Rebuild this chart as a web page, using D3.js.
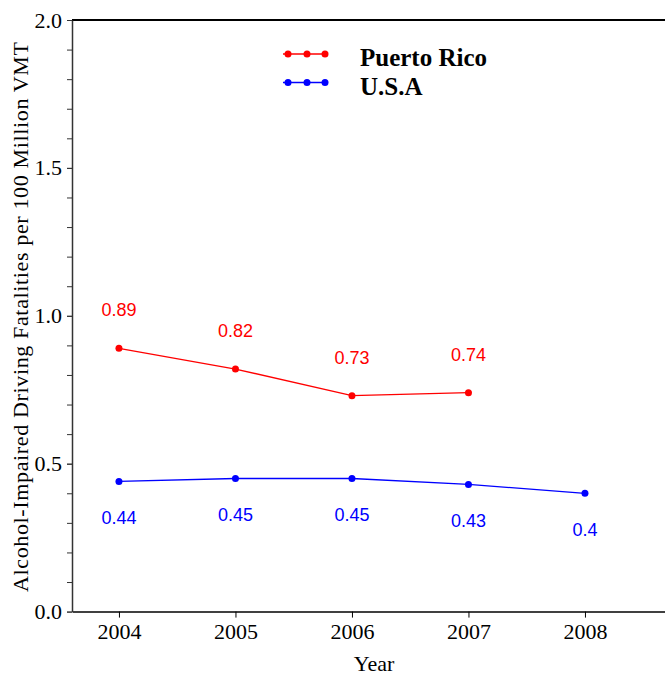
<!DOCTYPE html>
<html>
<head>
<meta charset="utf-8">
<script src="https://cdn.jsdelivr.net/npm/d3@7"></script>
<style>
  body { margin: 0; background: #fff; }
  svg { display: block; }
</style>
</head>
<body>
<div id="chart"></div>
<script>
// data
const years = [2004, 2005, 2006, 2007, 2008];
const puerto_rico = [0.89, 0.82, 0.73, 0.74];
const usa = [0.44, 0.45, 0.45, 0.43, 0.4];
const y_ticks = [0.0, 0.5, 1.0, 1.5, 2.0];
const series_names = ["Puerto Rico", "U.S.A"];

const width = 665;
const height = 675;
const margin = {left: 72, right: 0, top: 20, bottom: 63};

const svg = d3.select("#chart")
  .append("svg")
    .attr("width", width)
    .attr("height", height);

// scales
const X_SCALE = d3.scaleLinear()
  .domain([2003.597, 2008.687])
  .range([margin.left, width - margin.right]);

const Y_SCALE = d3.scaleLinear()
  .domain([0, 2])
  .range([height - margin.bottom - 0.4, margin.top]);

const serif = "'Liberation Serif', 'Times New Roman', serif";
const sans = "'Liberation Sans', Arial, sans-serif";

// top frame line
svg.append("line")
  .attr("x1", margin.left).attr("x2", width)
  .attr("y1", Y_SCALE(2)).attr("y2", Y_SCALE(2))
  .attr("stroke", "#000").attr("stroke-width", 2);

// x axis
const x_axis = svg.append("g")
  .attr("transform", "translate(0," + Y_SCALE(0) + ")")
  .call(d3.axisBottom(X_SCALE).tickValues(years).tickFormat(d3.format("d"))
    .tickSizeInner(6).tickSizeOuter(0).tickPadding(6));
x_axis.select(".domain").attr("stroke-width", 1.5);
x_axis.selectAll("text").attr("font-family", serif).attr("font-size", 22).attr("fill", "#000");

// y axis minor ticks
const y_minor = svg.append("g")
  .attr("transform", "translate(" + margin.left + ",0)")
  .call(d3.axisLeft(Y_SCALE).tickValues(d3.range(0, 21).map(i => i / 10))
    .tickFormat("").tickSizeInner(5).tickSizeOuter(0));
y_minor.select(".domain").attr("stroke", "#333").attr("stroke-width", 1.5);
y_minor.selectAll(".tick line").attr("stroke", "#333");

// y axis labels
const y_axis = svg.append("g")
  .attr("transform", "translate(" + margin.left + ",0)")
  .call(d3.axisLeft(Y_SCALE).tickValues(y_ticks).tickFormat(d3.format(".1f"))
    .tickSizeInner(5).tickSizeOuter(0).tickPadding(5));
y_axis.select(".domain").remove();
y_axis.selectAll(".tick line").attr("stroke", "#333");
y_axis.selectAll("text").attr("font-family", serif).attr("font-size", 22).attr("fill", "#000");

// axis titles
svg.append("text")
  .attr("x", 374).attr("y", 671)
  .attr("text-anchor", "middle")
  .attr("font-family", serif).attr("font-size", 22)
  .text("Year");

svg.append("text")
  .attr("transform", "translate(28,317) rotate(-90)")
  .attr("text-anchor", "middle")
  .attr("font-family", serif).attr("font-size", 22)
  .attr("textLength", 550).attr("lengthAdjust", "spacing")
  .text("Alcohol-Impaired Driving Fatalities per 100 Million VMT");

// series
const series = [
  {name: series_names[0], values: puerto_rico, color: "#ff0000", dy: -32},
  {name: series_names[1], values: usa, color: "#0000ff", dy: 43}
];

const line = d3.line()
  .x((d, i) => X_SCALE(years[i]))
  .y(d => Y_SCALE(d));

series.forEach(s => {
  svg.append("path")
    .attr("d", line(s.values))
    .attr("fill", "none")
    .attr("stroke", s.color)
    .attr("stroke-width", 1.3);

  svg.selectAll(null)
    .data(s.values)
    .enter().append("circle")
      .attr("cx", (d, i) => X_SCALE(years[i]))
      .attr("cy", d => Y_SCALE(d))
      .attr("r", 3.5)
      .attr("fill", s.color);

  svg.selectAll(null)
    .data(s.values)
    .enter().append("text")
      .attr("x", (d, i) => X_SCALE(years[i]))
      .attr("y", d => Y_SCALE(d) + s.dy)
      .attr("text-anchor", "middle")
      .attr("font-family", sans).attr("font-size", 18)
      .attr("fill", s.color)
      .text(d => d);
});

// legend
const legend = svg.append("g");
series.forEach((s, k) => {
  const ly = 54 + k * 28.5;
  legend.append("line")
    .attr("x1", 283).attr("x2", 326)
    .attr("y1", ly).attr("y2", ly)
    .attr("stroke", s.color).attr("stroke-width", 1.5);
  [288, 307, 325].forEach(cx => {
    legend.append("circle")
      .attr("cx", cx).attr("cy", ly).attr("r", 3.5)
      .attr("fill", s.color);
  });
  legend.append("text")
    .attr("x", 360).attr("y", ly + 12)
    .attr("font-family", serif).attr("font-weight", "bold").attr("font-size", 25)
    .text(s.name);
});
</script>
</body>
</html>
